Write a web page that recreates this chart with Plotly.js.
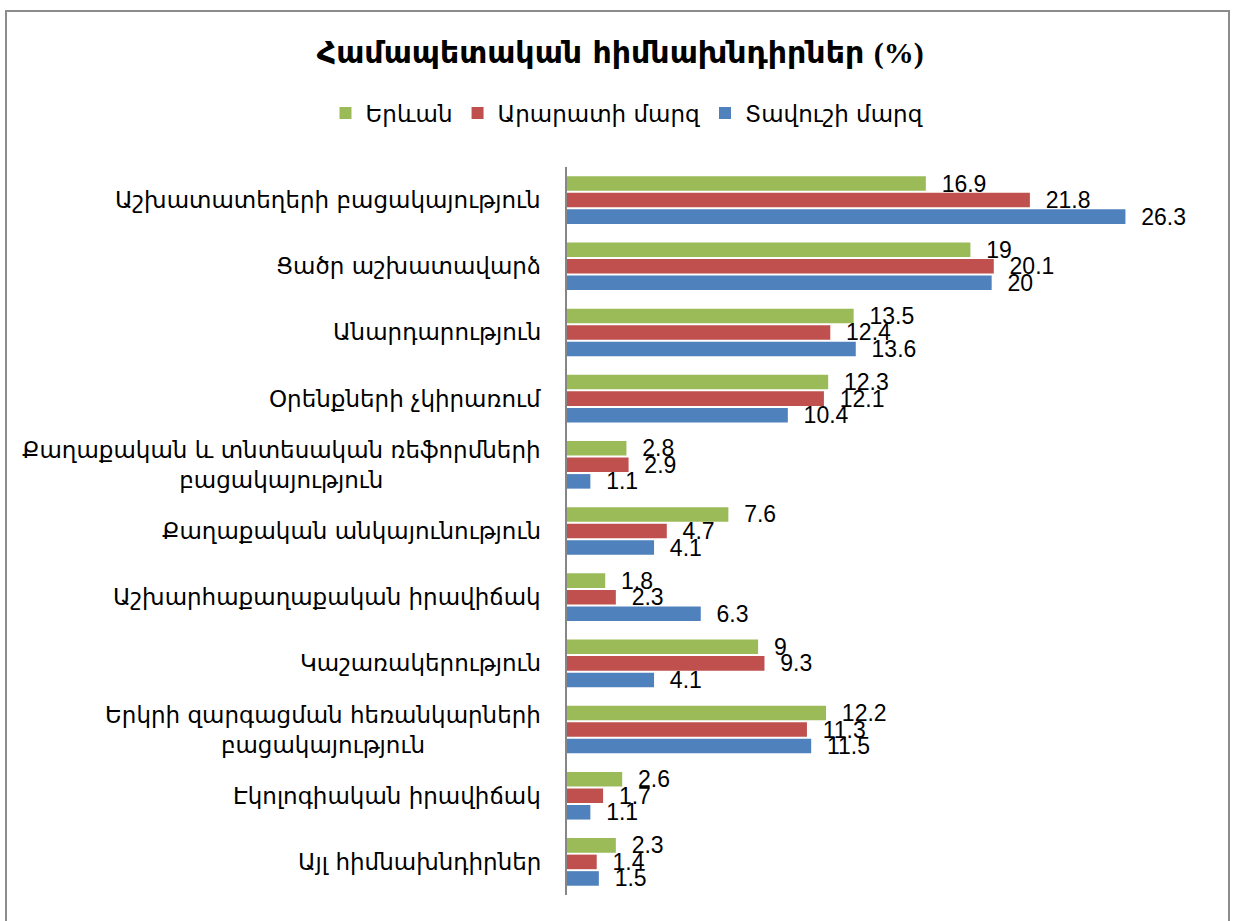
<!DOCTYPE html>
<html>
<head>
<meta charset="utf-8">
<script src="https://cdn.plot.ly/plotly-3.0.1.min.js"></script>
<style>
  html, body { margin: 0; padding: 0; background: #fff; }
  #chart { width: 1233px; height: 921px; }
  #frame { position: absolute; left: 5px; top: 10px; width: 1225px; height: 920px;
           border: 2px solid #8c8c8c; box-sizing: border-box; pointer-events: none; }
</style>
</head>
<body>
<div id="chart"></div>
<div id="frame"></div>
<script>
const categories = [
  "Աշխատատեղերի բացակայություն",
  "Ցածր աշխատավարձ",
  "Անարդարություն",
  "Օրենքների չկիրառում",
  "Քաղաքական և տնտեսական ռեֆորմների<br>բացակայություն",
  "Քաղաքական անկայունություն",
  "Աշխարհաքաղաքական իրավիճակ",
  "Կաշառակերություն",
  "Երկրի զարգացման հեռանկարների<br>բացակայություն",
  "Էկոլոգիական իրավիճակ",
  "Այլ հիմնախնդիրներ"
];
const seriesNames = ["Երևան", "Արարատի մարզ", "Տավուշի մարզ"];
const yerevan = [16.9, 19, 13.5, 12.3, 2.8, 7.6, 1.8, 9, 12.2, 2.6, 2.3];
const ararat  = [21.8, 20.1, 12.4, 12.1, 2.9, 4.7, 2.3, 9.3, 11.3, 1.7, 1.4];
const tavush  = [26.3, 20, 13.6, 10.4, 1.1, 4.1, 6.3, 4.1, 11.5, 1.1, 1.5];
const colors = ["#9BBB59", "#C0504D", "#4F81BD"];

const armFont = "DejaVu Sans, Noto Sans, sans-serif";
const numFont = "Liberation Sans Narrow, Liberation Sans, Arial, sans-serif";

const seriesValues = [yerevan, ararat, tavush];
const traces = seriesValues.map((vals, i) => ({
  type: "bar",
  orientation: "h",
  name: seriesNames[i],
  y: categories,
  x: vals,
  marker: { color: colors[i], line: { width: 0 } },
  text: vals.map(v => "\u00a0\u00a0" + v),
  texttemplate: "%{text}",
  textposition: "outside",
  constraintext: "none",
  cliponaxis: false,
  textfont: { family: numFont, size: 23, color: "#000" },
  hoverinfo: "x+name"
}));

const annotations = categories.map(c => ({
  xref: "paper", yref: "y",
  x: 0, y: c,
  xanchor: "right", yanchor: "middle",
  xshift: -24,
  text: c,
  align: "center",
  showarrow: false,
  font: { family: armFont, size: 23, color: "#000" }
}));

const layout = {
  width: 1233, height: 921,
  margin: { l: 567, r: 29, t: 167, b: 26 },
  paper_bgcolor: "#fff", plot_bgcolor: "#fff",
  title: {
    text: "<b>Համապետական հիմնախնդիրներ</b> <b><span style=\"font-family:Liberation Serif, Times New Roman, serif\">(%)</span></b>",
    font: { family: armFont, size: 30, color: "#000" },
    xref: "container", x: 0.503, xanchor: "center",
    yref: "container", y: 1 - 52 / 921, yanchor: "middle"
  },
  legend: {
    orientation: "h",
    xref: "container", x: 627 / 1233, xanchor: "center",
    yref: "container", y: 1 - 113 / 921, yanchor: "middle",
    font: { family: armFont, size: 23, color: "#000" },
    traceorder: "normal"
  },
  barmode: "group",
  bargap: 0.25,
  bargroupgap: 0.12,
  xaxis: {
    range: [0, 30],
    visible: false,
    fixedrange: true
  },
  yaxis: {
    autorange: "reversed",
    showticklabels: false,
    ticks: "",
    showgrid: false,
    zeroline: false,
    showline: true,
    linecolor: "#868686",
    linewidth: 2,
    fixedrange: true
  },
  annotations: annotations,
  showlegend: true
};

Plotly.newPlot("chart", traces, layout, { displayModeBar: false, staticPlot: true });
</script>
</body>
</html>
